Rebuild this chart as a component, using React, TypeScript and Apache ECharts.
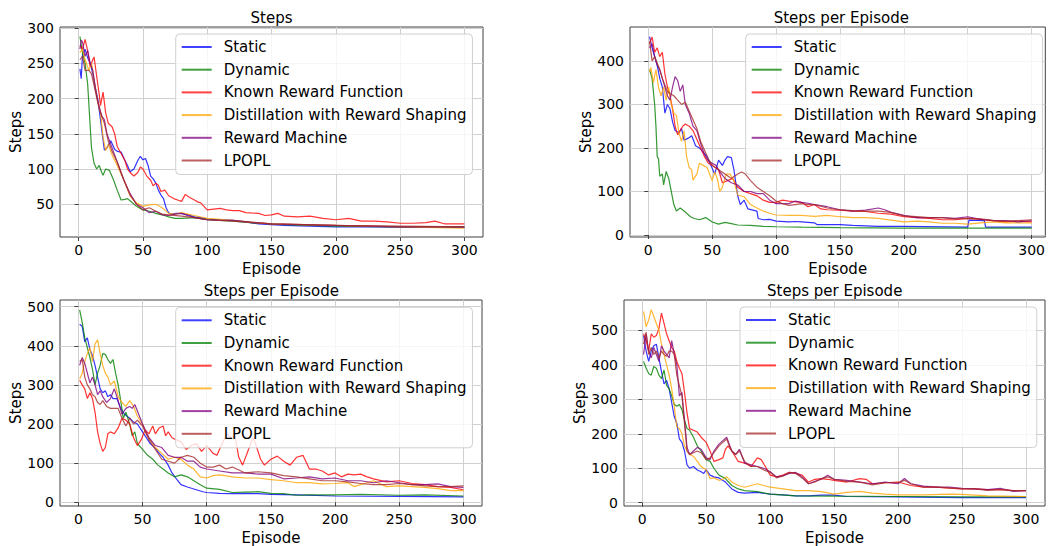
import React, { useEffect, useRef } from 'react';
import * as echarts from 'echarts';

type P = [number, number][];

const NAMES = ['Static', 'Dynamic', 'Known Reward Function', 'Distillation with Reward Shaping', 'Reward Machine', 'LPOPL'];
const COLORS = ['#0000ff', '#008000', '#ff0000', '#ffa500', '#800080', '#a52a2a'];
const TITLES = ['Steps', 'Steps per Episode', 'Steps per Episode', 'Steps per Episode'];
const X_TICKS = [0, 50, 100, 150, 200, 250, 300];
const Y_TICKS = [
  [50, 100, 150, 200, 250, 300],
  [0, 100, 200, 300, 400],
  [0, 100, 200, 300, 400, 500],
  [0, 100, 200, 300, 400, 500],
];

// ---------- Panel 1 (top-left) ----------
const p1Static: P = [[1,242],[2,228],[3,262],[5,270],[7,258],[9,250],[11,235],[13,215],[15,198],[17,170],[18,155],[20,127],[22,130],[25,140],[28,128],[30,125],[33,124],[36,112],[38,105],[40,96],[43,100],[46,112],[48,118],[50,113],[52,115],[54,105],[56,90],[58,86],[60,80],[62,70],[64,63],[66,58],[68,45],[70,38],[72,36],[76,37],[80,37],[85,35],[90,32],[95,31],[100,29],[110,28],[120,27],[130,25],[140,22],[150,21],[160,20],[180,19],[200,18],[230,18],[260,17],[300,17]];
const p1Dynamic: P = [[1,288],[3,265],[5,250],[7,221],[9,160],[10,130],[12,108],[14,100],[16,105],[18,95],[19,91],[21,100],[24,98],[27,85],[30,70],[33,56],[36,57],[38,58],[40,55],[45,47],[50,42],[55,40],[60,37],[65,35],[70,32],[75,30],[80,30],[90,31],[100,28],[110,27],[120,26],[140,23],[160,21],[200,19],[250,18],[300,18]];
const p1Known: P = [[1,275],[3,270],[5,284],[7,268],[9,245],[11,255],[12,259],[14,232],[16,206],[17,190],[19,209],[21,180],[23,165],[26,160],[28,150],[30,132],[33,122],[36,112],[38,100],[40,95],[43,90],[46,95],[48,103],[50,100],[53,90],[56,84],[58,76],[60,80],[62,77],[64,68],[67,70],[70,62],[74,58],[77,56],[80,54],[83,64],[86,60],[90,56],[93,53],[95,52],[98,46],[100,42],[105,43],[110,44],[115,42],[120,41],[125,41],[130,38],[140,37],[145,34],[150,35],[155,37],[160,33],[170,32],[180,33],[190,30],[200,28],[210,30],[220,26],[230,26],[240,25],[250,23],[260,23],[270,24],[277,26],[285,22],[300,22]];
const p1Distill: P = [[1,265],[3,270],[5,255],[8,240],[10,250],[13,215],[15,195],[17,180],[19,145],[21,126],[23,135],[26,120],[30,105],[35,85],[40,62],[45,52],[50,47],[55,49],[60,50],[65,45],[70,37],[75,36],[80,38],[85,36],[90,34],[100,30],[120,27],[150,22],[200,20],[250,18],[300,16]];
const p1RM: P = [[1,270],[2,283],[3,280],[5,260],[7,268],[9,250],[11,240],[13,215],[15,195],[18,175],[20,170],[22,150],[25,135],[28,120],[31,105],[35,85],[40,65],[45,50],[50,45],[55,38],[60,40],[65,35],[70,34],[75,36],[80,37],[90,31],[100,28],[110,27],[120,27],[150,22],[200,20],[250,18],[300,18]];
const p1LPOPL: P = [[1,255],[3,260],[5,240],[8,240],[10,235],[13,210],[16,185],[20,165],[23,140],[26,125],[30,110],[35,85],[40,63],[45,50],[50,42],[55,45],[60,40],[65,36],[70,35],[80,33],[90,31],[100,28],[120,26],[150,22],[200,20],[250,19],[300,18]];

// ---------- Panel 2 (top-right) ----------
const p2Static: P = [[1,456],[3,430],[5,410],[7,390],[9,360],[11,340],[13,280],[15,300],[17,290],[19,260],[21,240],[24,235],[26,245],[28,218],[31,222],[34,228],[37,205],[40,200],[43,190],[46,180],[49,160],[52,140],[55,172],[58,160],[60,172],[62,180],[65,178],[67,150],[70,90],[72,70],[75,80],[78,60],[85,55],[86,38],[90,35],[95,36],[100,32],[110,30],[115,31],[120,30],[130,28],[132,24],[140,24],[150,24],[160,22],[180,20],[200,20],[250,18],[251,34],[263,33],[264,18],[280,18],[300,18]];
const p2Dynamic: P = [[1,380],[3,360],[5,300],[6,250],[7,180],[8,175],[9,135],[11,140],[12,115],[14,146],[16,130],[18,100],[20,70],[22,55],[25,62],[28,55],[30,50],[33,42],[36,38],[40,35],[45,40],[50,30],[55,25],[60,29],[65,26],[70,23],[80,22],[90,20],[100,19],[120,18],[150,17],[200,16],[300,16]];
const p2Known: P = [[1,440],[3,455],[5,420],[7,430],[9,410],[11,420],[13,370],[15,340],[17,320],[19,290],[21,250],[23,230],[25,240],[27,250],[29,255],[32,250],[35,240],[38,220],[41,200],[44,180],[47,165],[50,160],[55,150],[58,120],[62,125],[66,130],[70,110],[75,100],[80,95],[85,90],[90,80],[95,75],[100,75],[105,80],[110,78],[120,75],[125,65],[130,70],[135,60],[140,58],[150,57],[160,55],[170,54],[180,50],[190,48],[200,42],[210,40],[220,38],[230,35],[240,35],[250,38],[260,36],[270,33],[280,30],[290,32],[300,30]];
const p2Distill: P = [[1,375],[2,385],[4,350],[6,380],[8,340],[10,320],[12,340],[14,310],[16,340],[18,300],[20,280],[22,275],[24,235],[26,215],[28,240],[30,180],[32,155],[34,150],[35,126],[38,140],[40,165],[43,160],[46,155],[50,125],[52,145],[54,130],[56,100],[58,110],[61,140],[64,140],[67,125],[70,92],[75,88],[80,70],[85,62],[90,55],[95,50],[100,46],[110,45],[120,45],[130,43],[140,45],[150,42],[160,40],[170,40],[180,38],[190,34],[200,30],[210,32],[220,30],[230,27],[240,27],[250,25],[260,28],[270,30],[280,28],[290,28],[300,28]];
const p2RM: P = [[1,430],[3,440],[5,410],[7,390],[9,380],[11,360],[13,340],[15,320],[17,310],[19,340],[21,364],[23,355],[25,330],[27,345],[29,300],[32,280],[35,250],[38,240],[41,210],[44,185],[47,170],[50,165],[53,160],[56,145],[60,130],[65,120],[70,115],[75,100],[80,100],[85,95],[90,95],[95,80],[100,72],[110,72],[115,78],[120,75],[125,73],[130,70],[140,65],[150,58],[160,55],[170,57],[180,62],[185,58],[190,52],[200,45],[210,40],[220,40],[230,40],[240,38],[250,42],[260,36],[270,33],[280,33],[290,30],[300,33]];
const p2LPOPL: P = [[1,445],[3,400],[5,410],[7,395],[9,380],[11,360],[13,345],[15,330],[17,325],[20,320],[23,310],[26,300],[29,305],[32,285],[35,265],[38,245],[41,215],[44,195],[47,175],[50,160],[55,150],[60,140],[65,130],[70,140],[73,145],[76,140],[80,125],[85,110],[90,100],[95,90],[100,78],[105,72],[110,68],[115,70],[120,72],[125,70],[130,70],[140,62],[150,58],[160,56],[170,55],[180,55],[190,52],[200,44],[210,42],[220,40],[230,40],[240,37],[250,38],[260,37],[270,33],[280,32],[290,33],[300,35]];

// ---------- Panel 3 (bottom-left) ----------
const p3Static: P = [[1,455],[3,450],[5,410],[7,420],[9,390],[11,375],[13,350],[15,320],[17,290],[19,280],[21,285],[23,270],[25,275],[27,265],[30,265],[33,240],[36,225],[40,215],[43,205],[46,200],[50,180],[53,165],[56,150],[60,138],[63,125],[66,115],[70,95],[73,75],[77,57],[80,45],[85,39],[90,34],[97,27],[100,25],[110,23],[120,22],[130,23],[140,22],[150,20],[170,19],[200,16],[250,15],[300,14]];
const p3Dynamic: P = [[1,492],[3,460],[5,420],[7,395],[9,370],[11,340],[13,300],[15,330],[17,350],[19,380],[21,378],[23,365],[25,355],[27,365],[29,330],[31,300],[33,260],[35,215],[37,230],[40,200],[42,170],[44,180],[46,150],[50,135],[54,120],[58,110],[62,95],[66,85],[70,75],[75,65],[80,70],[85,65],[90,55],[95,45],[100,36],[110,33],[120,25],[130,26],[140,27],[150,23],[160,22],[170,18],[180,19],[200,19],[220,20],[250,18],[270,19],[300,16]];
const p3Known: P = [[1,312],[3,300],[5,290],[7,265],[9,280],[11,265],[13,230],[15,180],[17,150],[19,130],[21,140],[23,175],[25,180],[28,175],[31,190],[34,215],[37,210],[40,200],[43,165],[46,145],[49,160],[52,185],[55,175],[58,195],[60,175],[63,190],[66,195],[68,170],[70,180],[73,165],[76,160],[80,155],[84,135],[88,145],[92,150],[96,130],[100,145],[105,125],[108,120],[112,150],[116,175],[119,165],[122,170],[125,115],[128,95],[132,130],[136,165],[138,150],[142,110],[145,95],[150,110],[155,118],[160,105],[165,95],[170,115],[175,120],[180,85],[185,85],[190,80],[195,70],[200,75],[205,65],[210,72],[215,70],[220,72],[225,65],[230,60],[240,52],[250,55],[260,48],[270,45],[280,40],[290,38],[300,32]];
const p3Distill: P = [[1,315],[3,330],[5,360],[7,380],[9,395],[11,360],[13,405],[15,415],[17,380],[19,350],[21,330],[23,320],[25,300],[28,310],[31,270],[34,255],[37,245],[40,260],[43,245],[46,220],[50,200],[53,175],[56,160],[60,140],[65,125],[70,110],[75,115],[80,110],[85,95],[90,85],[95,65],[100,62],[105,68],[110,70],[120,65],[130,62],[140,62],[150,58],[160,55],[170,50],[180,50],[190,47],[200,48],[210,50],[215,40],[220,45],[225,50],[230,55],[240,40],[250,42],[260,40],[270,38],[280,35],[290,30],[300,30]];
const p3RM: P = [[1,350],[3,370],[5,355],[7,330],[9,305],[11,320],[13,300],[15,275],[17,285],[19,270],[22,255],[25,265],[28,290],[31,260],[34,225],[37,240],[40,245],[42,240],[44,250],[47,225],[50,200],[55,165],[60,145],[65,140],[70,120],[75,115],[80,115],[85,105],[90,105],[95,90],[100,85],[110,80],[120,75],[130,75],[140,72],[150,72],[160,60],[170,62],[180,65],[190,60],[200,62],[210,55],[220,55],[230,50],[240,55],[250,50],[260,45],[270,45],[280,47],[290,40],[300,38]];
const p3LPOPL: P = [[1,360],[3,365],[5,320],[7,300],[9,290],[11,275],[13,270],[15,255],[17,250],[19,260],[22,245],[25,240],[28,240],[31,240],[34,215],[37,195],[40,215],[43,200],[46,210],[50,195],[55,160],[60,135],[65,110],[70,105],[75,100],[80,115],[85,120],[90,115],[95,100],[100,90],[105,90],[110,95],[115,85],[120,90],[130,75],[140,78],[150,75],[160,68],[170,65],[180,60],[190,55],[200,55],[210,52],[220,48],[230,45],[240,45],[250,48],[260,45],[270,42],[280,40],[290,40],[300,42]];

// ---------- Panel 4 (bottom-right) ----------
const p4Static: P = [[1,485],[3,440],[5,410],[7,440],[9,455],[11,460],[13,420],[15,380],[17,345],[19,355],[21,330],[23,290],[25,250],[27,230],[29,185],[31,175],[33,150],[35,110],[37,100],[40,105],[43,95],[46,90],[48,85],[50,95],[53,80],[56,75],[60,72],[65,60],[70,40],[75,30],[80,28],[90,30],[100,25],[110,23],[120,20],[130,20],[140,22],[150,22],[160,18],[200,17],[250,15],[300,15]];
const p4Dynamic: P = [[1,410],[3,390],[5,375],[7,370],[9,395],[11,390],[13,370],[15,360],[17,385],[19,340],[21,330],[23,310],[25,285],[27,280],[29,285],[31,270],[33,240],[35,215],[37,210],[40,190],[43,165],[46,150],[50,125],[53,120],[56,100],[60,80],[65,70],[70,50],[75,40],[80,35],[90,32],[100,25],[120,20],[150,19],[200,18],[250,17],[300,17]];
const p4Known: P = [[1,490],[3,470],[5,440],[7,490],[9,480],[11,485],[13,505],[15,550],[17,520],[19,490],[21,470],[23,450],[25,440],[27,410],[29,390],[31,375],[33,320],[35,260],[37,215],[40,210],[43,205],[46,190],[50,175],[53,150],[56,120],[60,125],[63,130],[65,155],[67,165],[70,150],[75,120],[80,115],[85,105],[90,130],[93,125],[97,100],[100,80],[105,75],[110,80],[115,88],[120,85],[125,80],[130,60],[135,68],[140,70],[145,68],[150,65],[160,60],[170,70],[175,68],[180,55],[190,58],[200,60],[210,50],[220,45],[230,45],[240,42],[250,40],[260,40],[270,38],[280,38],[290,35],[300,35]];
const p4Distill: P = [[1,555],[3,510],[5,530],[7,560],[9,540],[11,520],[13,500],[15,460],[17,430],[19,400],[21,370],[23,330],[25,280],[27,220],[29,215],[31,200],[33,165],[35,150],[37,140],[40,135],[43,120],[46,105],[50,95],[53,70],[56,72],[60,65],[63,68],[66,75],[70,60],[75,50],[80,45],[85,50],[90,55],[95,50],[100,45],[110,40],[120,35],[130,35],[140,32],[150,25],[160,30],[170,33],[180,28],[190,25],[200,23],[220,23],[240,25],[250,24],[260,22],[270,20],[300,18]];
const p4RM: P = [[1,430],[3,490],[5,440],[7,420],[9,450],[11,430],[13,410],[15,455],[17,440],[19,430],[21,420],[23,470],[25,430],[27,400],[29,310],[31,320],[33,240],[35,160],[37,140],[40,150],[43,160],[46,155],[50,130],[53,125],[56,150],[60,170],[63,180],[66,190],[68,170],[70,150],[73,140],[76,155],[80,115],[85,110],[90,105],[95,100],[100,90],[105,75],[110,78],[115,85],[120,88],[125,75],[130,55],[135,62],[140,68],[145,80],[150,68],[160,65],[170,60],[180,55],[190,60],[200,55],[205,70],[210,55],[220,48],[230,45],[240,45],[250,42],[260,40],[270,38],[280,42],[290,33],[300,35]];
const p4LPOPL: P = [[1,460],[3,495],[5,430],[7,450],[9,430],[11,440],[13,420],[15,440],[17,430],[19,425],[21,440],[23,440],[25,430],[27,370],[29,340],[31,310],[33,230],[35,150],[37,140],[40,145],[43,150],[46,145],[50,125],[53,130],[56,145],[60,165],[63,175],[66,185],[68,165],[70,150],[73,140],[76,150],[80,120],[85,105],[90,105],[95,95],[100,88],[105,72],[110,78],[115,88],[120,85],[125,72],[130,55],[135,60],[140,70],[145,75],[150,68],[160,62],[170,60],[180,52],[190,58],[200,58],[205,65],[210,55],[220,45],[230,45],[240,43],[250,40],[260,40],[270,36],[280,38],[290,35],[300,35]];

const PANELS: P[][] = [
  [p1Static, p1Dynamic, p1Known, p1Distill, p1RM, p1LPOPL],
  [p2Static, p2Dynamic, p2Known, p2Distill, p2RM, p2LPOPL],
  [p3Static, p3Dynamic, p3Known, p3Distill, p3RM, p3LPOPL],
  [p4Static, p4Dynamic, p4Known, p4Distill, p4RM, p4LPOPL],
];

const FONT = 'DejaVu Sans';
const GRIDS = [
  { left: 60, top: 27, width: 423, height: 210 },
  { left: 630, top: 27, width: 417, height: 210 },
  { left: 60, top: 300, width: 422, height: 209 },
  { left: 624, top: 300, width: 421, height: 209 },
];
const X_RANGE = [[-14.5, 314.5], [-14.3, 310.7], [-14.3, 314.5], [-14.3, 314.9]];
const Y_RANGE = [[3.5, 301.5], [-4.6, 478], [-9.5, 517], [-9.5, 588]];
const LEGEND_POS = [[175.7, 34], [745.7, 34], [175.7, 307.3], [740, 307]];
const TITLE_POS = [[271.5, 18], [841.3, 18], [271.3, 290.7], [834.7, 291]];

export default function App() {
  const ref = useRef<HTMLDivElement>(null);
  useEffect(() => {
    document.body.style.margin = '0';
    if (!ref.current) return;
    const chart = echarts.init(ref.current, null, { renderer: 'svg' });
    const axisColor = '#404040';
    const option: any = {
      animation: false,
      textStyle: { fontFamily: FONT },
      grid: GRIDS.map((g) => ({ ...g, show: true, borderColor: axisColor, borderWidth: 1, backgroundColor: 'transparent' })),
      xAxis: GRIDS.map((_, i) => ({
        type: 'value',
        gridIndex: i,
        min: X_RANGE[i][0],
        max: X_RANGE[i][1],
        name: 'Episode',
        nameLocation: 'middle',
        nameGap: 24,
        nameTextStyle: { fontSize: 15, color: '#000', fontFamily: FONT, lineHeight: 15 },
        axisLine: { show: false },
        axisTick: { show: true, length: 4, customValues: X_TICKS, lineStyle: { color: axisColor } },
        axisLabel: { fontSize: 14, lineHeight: 14, color: '#000', margin: 6, fontFamily: FONT, customValues: X_TICKS },
        splitLine: { show: true, lineStyle: { color: '#d0d0d0', width: 1 } },
      })),
      yAxis: GRIDS.map((_, i) => ({
        type: 'value',
        gridIndex: i,
        min: Y_RANGE[i][0],
        max: Y_RANGE[i][1],
        name: 'Steps',
        nameLocation: 'middle',
        nameGap: 35,
        nameRotate: 90,
        nameTextStyle: { fontSize: 15, color: '#000', fontFamily: FONT },
        axisLine: { show: false },
        axisTick: { show: true, length: 4, customValues: Y_TICKS[i], lineStyle: { color: axisColor } },
        axisLabel: { fontSize: 14, color: '#000', margin: 6, fontFamily: FONT, customValues: Y_TICKS[i] },
        splitLine: { show: true, lineStyle: { color: '#d0d0d0', width: 1 } },
      })),
      legend: LEGEND_POS.map((p) => ({
        data: NAMES,
        orient: 'vertical',
        left: p[0],
        top: p[1],
        icon: 'rect',
        itemWidth: 30,
        itemHeight: 2,
        itemGap: 4.7,
        padding: [4, 6, 5, 6],
        selectedMode: false,
        itemStyle: { opacity: 0.75 },
        textStyle: { fontSize: 15, color: '#000', fontFamily: FONT, lineHeight: 18, padding: [0, 0, 0, 7] },
        backgroundColor: 'rgba(255,255,255,0.8)',
        borderColor: '#d0d0d0',
        borderWidth: 1,
        borderRadius: 4,
      })),
      graphic: TITLES.map((t, i) => ({
        type: 'text',
        x: TITLE_POS[i][0],
        y: TITLE_POS[i][1],
        style: { text: t, fontSize: 15, fontFamily: FONT, fill: '#000', align: 'center', verticalAlign: 'middle' },
      })),
      series: PANELS.flatMap((panel, i) =>
        panel.map((data, k) => ({
          type: 'line',
          name: NAMES[k],
          xAxisIndex: i,
          yAxisIndex: i,
          data,
          symbol: 'none',
          silent: true,
          itemStyle: { color: COLORS[k] },
          lineStyle: { color: COLORS[k], width: 1.2, opacity: 0.8 },
        }))
      ),
    };
    chart.setOption(option);
    return () => chart.dispose();
  }, []);
  return <div ref={ref} style={{ width: 1048, height: 546 }} />;
}
